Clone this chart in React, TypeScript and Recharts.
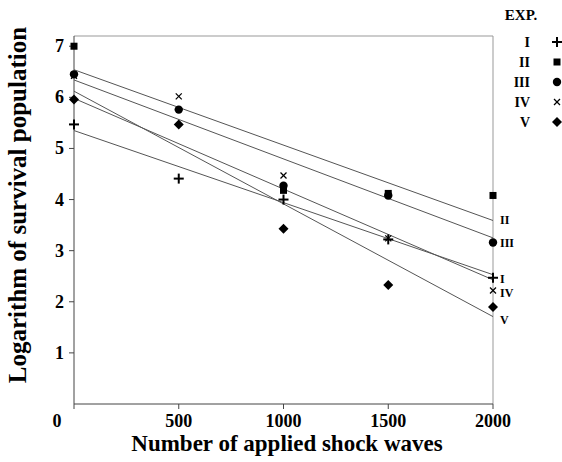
import React from 'react'
import { ComposedChart, Scatter, XAxis, YAxis, ReferenceLine, Legend } from 'recharts'

// shock-wave counts on the x axis
const shockWaves = [0, 500, 1000, 1500, 2000]
// log survival per experiment (null = point not visible)
const expI = [5.47, 4.41, 4.0, 3.22, 2.47]
const expII = [7.0, null, 4.18, 4.12, 4.08]
const expIII = [6.45, 5.76, 4.27, 4.08, 3.16]
const expIV = [6.42, 6.02, 4.47, 3.24, 2.22]
const expV = [5.96, 5.47, 3.43, 2.33, 1.9]
// fitted lines: value at 0 and at 2000 shock waves
const expNames = ['I', 'II', 'III', 'IV', 'V']
const fitStart = [5.35, 6.54, 6.34, 5.98, 6.12]
const fitEnd = [2.53, 3.59, 3.25, 2.43, 1.71]
const xTicks = [0, 500, 1000, 1500, 2000]
const yTicks = [1, 2, 3, 4, 5, 6, 7]

const FONT = "'Liberation Serif', 'Times New Roman', serif"
const AXIS = '#444'
const FIT = '#555'

// vertical nudge of the roman label at the end of each fitted line
const fitLabelDy: Record<string, number> = { I: 4, II: -1, III: 5, IV: 13, V: 3 }

const toPoints = (vals: (number | null)[]) =>
  shockWaves.map((x, i) => ({ x, y: vals[i] })).filter(p => p.y != null)

const Plus = ({ cx, cy, s = 5 }: any) => (
  <g stroke="#000" strokeWidth={2}>
    <line x1={cx - s} y1={cy} x2={cx + s} y2={cy} />
    <line x1={cx} y1={cy - s} x2={cx} y2={cy + s} />
  </g>
)
const Square = ({ cx, cy, s = 3.5 }: any) => <rect x={cx - s} y={cy - s} width={s * 2} height={s * 2} fill="#000" />
const Dot = ({ cx, cy, s = 4.2 }: any) => <circle cx={cx} cy={cy} r={s} fill="#000" />
const Cross = ({ cx, cy, s = 3 }: any) => (
  <g stroke="#000" strokeWidth={1.2}>
    <line x1={cx - s} y1={cy - s} x2={cx + s} y2={cy + s} />
    <line x1={cx - s} y1={cy + s} x2={cx + s} y2={cy - s} />
  </g>
)
const Diamond = ({ cx, cy, s = 5 }: any) => (
  <polygon points={`${cx},${cy - s} ${cx + s},${cy} ${cx},${cy + s} ${cx - s},${cy}`} fill="#000" />
)

const markers: Record<string, any> = { I: Plus, II: Square, III: Dot, IV: Cross, V: Diamond }

// the shared origin "0" sits left of the corner, below the axis
const XTick = ({ x, y, payload }: any) => (
  <text x={x} y={y} dx={payload.value === 0 ? -17 : 0} dy={16} textAnchor="middle" fontFamily={FONT} fontWeight="bold" fontSize={18} fill="#000">
    {payload.value}
  </text>
)

const YTick = ({ x, y, payload }: any) => (
  <text x={x} y={y} dx={-3} dy={6} textAnchor="end" fontFamily={FONT} fontWeight="bold" fontSize={18} fill="#000">
    {payload.value}
  </text>
)

const LegendBox = () => (
  <svg width={82} height={135} style={{ display: 'block' }}>
    <text x={41} y={20} textAnchor="middle" fontFamily={FONT} fontWeight="bold" fontSize={15}>EXP.</text>
    {expNames.map((n, i) => {
      const M = markers[n]
      const cy = 42 + i * 20
      return (
        <g key={n}>
          <text x={50} y={cy + 5} textAnchor="end" fontFamily={FONT} fontWeight="bold" fontSize={14}>{n}</text>
          <M cx={77} cy={cy} />
        </g>
      )
    })}
  </svg>
)

export default function App() {
  const fits = expNames.map((n, i) => ({ name: n, data: [{ x: 0, y: fitStart[i] }, { x: 2000, y: fitEnd[i] }] }))
  const series = [
    { name: 'IV', data: toPoints(expIV) },
    { name: 'III', data: toPoints(expIII) },
    { name: 'II', data: toPoints(expII) },
    { name: 'I', data: toPoints(expI) },
    { name: 'V', data: toPoints(expV) },
  ]

  return (
    <div style={{ position: 'absolute', left: 0, top: 0, width: 562, height: 462, background: '#fff' }}>
      <ComposedChart width={562} height={462} margin={{ top: 36, right: 69, bottom: 28, left: 14 }}>
        <XAxis
          dataKey="x" type="number" domain={[0, 2000]} ticks={xTicks}
          stroke={AXIS} tickSize={5} tick={<XTick />}
          height={30}
          label={() => (
            <text x={287} y={451} textAnchor="middle" fontFamily={FONT} fontWeight="bold" fontSize={23} fill="#000">
              Number of applied shock waves
            </text>
          )}
        />
        <YAxis
          dataKey="y" type="number" domain={[0, 7.2]} ticks={yTicks}
          stroke={AXIS} tickSize={5} tick={<YTick />} width={60}
          label={() => (
            <text transform="translate(26,205) rotate(-90)" textAnchor="middle" fontFamily={FONT} fontWeight="bold" fontSize={25} fill="#000">
              Logarithm of survival population
            </text>
          )}
        />
        <ReferenceLine y={7.2} stroke="#999" />
        <ReferenceLine x={2000} stroke="#999" />
        <ReferenceLine segment={[{ x: 118, y: 0 }, { x: 136, y: 0 }]} stroke="#fff" strokeWidth={3} ifOverflow="visible" />

        {fits.map(f => (
          <Scatter
            key={'fit' + f.name}
            data={f.data}
            line={{ stroke: FIT, strokeWidth: 1 }}
            isAnimationActive={false}
            legendType="none"
            shape={(p: any) =>
              p.payload.x === 2000 ? (
                <text x={p.cx + 7} y={p.cy + fitLabelDy[f.name] + 4} fontFamily={FONT} fontWeight="bold" fontSize={12} fill="#000">
                  {f.name}
                </text>
              ) : <g />
            }
          />
        ))}
        {series.map(s => {
          const M = markers[s.name]
          return (
            <Scatter
              key={s.name}
              name={s.name}
              data={s.data}
              isAnimationActive={false}
              shape={(p: any) => <M cx={p.cx} cy={p.cy} />}
            />
          )
        })}
        <Legend
          layout="vertical" align="center" verticalAlign="middle"
          wrapperStyle={{ top: 0, left: 480, width: 82, height: 135 }}
          content={() => <LegendBox />}
        />
      </ComposedChart>
    </div>
  )
}
